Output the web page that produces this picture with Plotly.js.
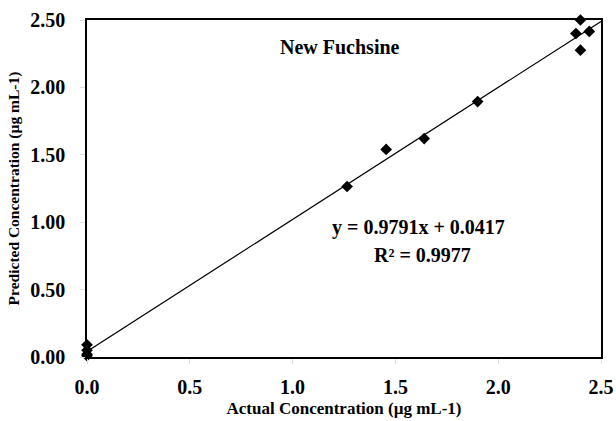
<!DOCTYPE html>
<html><head><meta charset="utf-8">
<script src="https://cdn.plot.ly/plotly-3.0.1.min.js"></script>
<style>body{margin:0;background:#fff}</style>
</head><body>
<div id="chart" style="width:616px;height:421px"></div>
<script>
const actual = [0, 0, 0, 0, 1.265, 1.455, 1.64, 1.90, 2.40, 2.378, 2.443, 2.40];
const predicted = [0.09, 0.05, 0.02, 0.01, 1.265, 1.54, 1.62, 1.895, 2.50, 2.40, 2.415, 2.276];
const slope = 0.9791, intercept = 0.0417;
const fitX = [0, 2.5];
const fitY = fitX.map(x => slope * x + intercept);
const xTicks = [0, 0.5, 1.0, 1.5, 2.0, 2.5];
const xTickText = ["0.0", "0.5", "1.0", "1.5", "2.0", "2.5"];
const yTicks = [0, 0.5, 1.0, 1.5, 2.0, 2.5];
const yTickText = ["0.00", "0.50", "1.00", "1.50", "2.00", "2.50"];

const F = "Liberation Serif, Times New Roman, serif";
const traces = [
  {x: fitX, y: fitY, mode: "lines", line: {color: "#000", width: 1.2}, hoverinfo: "skip"},
  {x: actual, y: predicted, mode: "markers", cliponaxis: false, marker: {symbol: "diamond", size: 9, color: "#000"}}
];
const layout = {
  width: 616, height: 421,
  margin: {l: 87, r: 15, t: 20, b: 64},
  showlegend: false,
  paper_bgcolor: "#fff", plot_bgcolor: "#fff",
  font: {family: F, color: "#000"},
  xaxis: {
    range: [0, 2.5], tickvals: xTicks, ticktext: xTickText,
    showgrid: false, zeroline: false,
    showline: true, linecolor: "#000", linewidth: 1.8, mirror: true,
    ticks: "outside", ticklen: 5, tickcolor: "#ddd", ticklabelstandoff: 6,
    tickfont: {family: F, size: 20, color: "#000", weight: "bold"},
    title: {text: "<b>Actual Concentration (µg mL-1)</b>", font: {family: F, size: 17}, standoff: 5}
  },
  yaxis: {
    range: [0, 2.5], tickvals: yTicks, ticktext: yTickText,
    showgrid: false, zeroline: false,
    showline: true, linecolor: "#000", linewidth: 1.8, mirror: true,
    ticks: "outside", ticklen: 5, tickcolor: "#ddd", ticklabelstandoff: 11,
    tickfont: {family: F, size: 20, color: "#000", weight: "bold"},
    title: {text: "<b>Predicted Concentration (µg mL-1)</b>", font: {family: F, size: 15.5}, standoff: 7}
  },
  annotations: [
    {xref: "paper", yref: "paper", xanchor: "center", yanchor: "middle", x: (340-87)/514, y: (357.5-47)/337.5, text: "<b>New Fuchsine</b>", showarrow: false, font: {family: F, size: 20}},
    {xref: "paper", yref: "paper", xanchor: "center", yanchor: "middle", x: (418-87)/514, y: (357.5-228)/337.5, text: "<b>y = 0.9791x + 0.0417</b>", showarrow: false, font: {family: F, size: 20}},
    {xref: "paper", yref: "paper", xanchor: "center", yanchor: "middle", x: (422-87)/514, y: (357.5-255)/337.5, text: "<b>R² = 0.9977</b>", showarrow: false, font: {family: F, size: 20}}
  ]
};
Plotly.newPlot("chart", traces, layout, {displayModeBar: false, staticPlot: true});
</script>
</body></html>
